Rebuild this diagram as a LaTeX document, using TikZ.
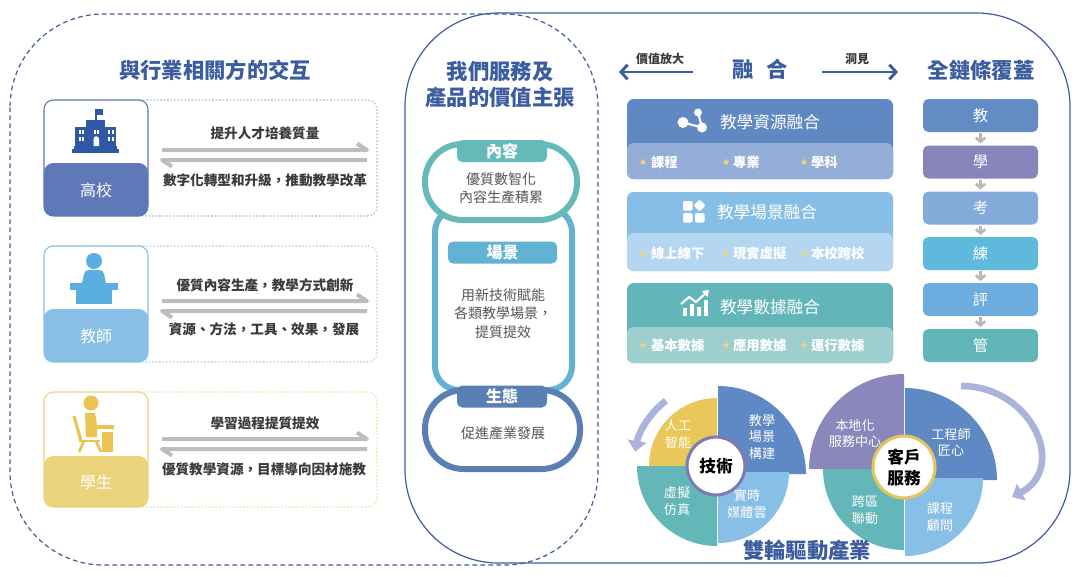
\documentclass[tikz,border=0pt]{standalone}
\usepackage{fontspec}
\setmainfont{Noto Sans CJK TC}
\usetikzlibrary{arrows.meta,shapes.geometric}
\newcommand\myfs[2]{\fontsize{#1pt}{#2pt}\selectfont}
\definecolor{lineblue}{HTML}{3D5C9C}
\definecolor{titleblue}{HTML}{3B5C9F}
\definecolor{cardA}{HTML}{5F78B7}
\definecolor{dotA}{HTML}{A3B8DC}
\definecolor{iconA}{HTML}{2F59A6}
\definecolor{cardB}{HTML}{88BFE6}
\definecolor{dotB}{HTML}{A8D3F0}
\definecolor{iconB}{HTML}{5AAEE0}
\definecolor{cardC}{HTML}{EBD37C}
\definecolor{dotC}{HTML}{F0DFA0}
\definecolor{iconC}{HTML}{E9C550}
\definecolor{arrowgray}{HTML}{BDBDBD}
\definecolor{rowtext}{HTML}{3A3A3A}
\definecolor{midtext}{HTML}{555555}
\definecolor{capA}{HTML}{66B9B9}
\definecolor{capB}{HTML}{62B2D3}
\definecolor{capC}{HTML}{5A7FB5}
\definecolor{fuA}{HTML}{6089C4}
\definecolor{fuAl}{HTML}{95ADD9}
\definecolor{fuB}{HTML}{87BEE6}
\definecolor{fuBl}{HTML}{B4D6F0}
\definecolor{fuC}{HTML}{62B5B8}
\definecolor{fuCl}{HTML}{9DCFCF}
\definecolor{starcol}{HTML}{F2D37A}
\definecolor{chA}{HTML}{638BC4}
\definecolor{chB}{HTML}{8985BB}
\definecolor{chC}{HTML}{84AAD9}
\definecolor{chD}{HTML}{5FB9DD}
\definecolor{chE}{HTML}{6CACDE}
\definecolor{chF}{HTML}{63B6B8}
\definecolor{wblue}{HTML}{5F89C4}
\definecolor{wyel}{HTML}{E9C75A}
\definecolor{wteal}{HTML}{63B7B9}
\definecolor{wlight}{HTML}{88BFE6}
\definecolor{wpurp}{HTML}{8B87BC}
\definecolor{wring}{HTML}{7D7AB6}
\definecolor{wgold}{HTML}{E3C55A}
\definecolor{warrow}{HTML}{AAB4DA}
\definecolor{chevgray}{HTML}{B8B8B8}
\tikzset{
 every node/.style={inner sep=0pt, outer sep=0pt},
 ttl/.style={font=\myfs{16}{19.5}\bfseries, text=titleblue, align=center},
 smalltx/.style={font=\myfs{9}{11}\bfseries, text=rowtext},
 rowtx/.style={font=\myfs{10.2}{12}\bfseries, text=rowtext},
 cardtx/.style={font=\myfs{12}{14}, text=white},
 midtx/.style={font=\myfs{10.5}{13.5}, text=midtext, align=center},
 tabbox/.style={font=\myfs{12}{14}\bfseries, text=white, rounded corners=4pt, minimum height=16.5pt, minimum width=67.5pt},
 futx/.style={font=\myfs{12.5}{15}, text=white},
 itemtx/.style={font=\myfs{10}{12}\bfseries, text=white, anchor=west},
 stardot/.style={star, star points=5, star point ratio=2.4, fill=starcol, minimum size=5.5pt, inner sep=0pt},
 chainbox/.style={rounded corners=4pt, minimum width=86.25pt, minimum height=24.75pt, font=\myfs{11.5}{13}, text=white},
 chev/.style={draw=chevgray, line width=2pt, -{Straight Barb[length=3pt,width=7pt]}, shorten <=1pt, shorten >=1.5pt},
 grayarrow/.style={draw=arrowgray, line width=3pt, line join=round},
 bluearrow/.style={draw=lineblue, line width=2.2pt, -{Straight Barb[length=5pt,width=11pt]}},
 wtx/.style={font=\myfs{9.8}{12.5}, text=white, align=center},
 wctr/.style={font=\myfs{12.5}{15.75}\bfseries, text=black, align=center},
 cardbox/.style={fill=white, rounded corners=7pt, line width=0.8pt},
 dotbox/.style={rounded corners=7pt, line width=0.8pt, dash pattern=on 1.2pt off 1.4pt},
}
\begin{document}
\begin{tikzpicture}[x=0.75pt,y=-0.75pt]
\useasboundingbox (0,0) rectangle (1080,576);

% ===== outer outlines =====
\draw[lineblue, line width=0.9pt, dash pattern=on 3.5pt off 2.5pt, rounded corners=70pt] (10,14) rectangle (598,565);
\draw[lineblue, line width=0.9pt, rounded corners=70pt] (405,13) rectangle (1070,563);

% ===== left panel =====
\node[ttl] (t1) at (215,70) {與行業相關方的交互};

% row 1
\draw[dotbox, dotA] (130,100) rectangle (377,216);
\draw[cardbox, draw=cardA] (44,100) rectangle (148,216);
\fill[cardA, rounded corners=7pt] (44,163) rectangle (148,216);
\node[cardtx] (k1) at (96,190) {高校};
% school icon
\fill[iconA] (72,149) rectangle (119,153);
\fill[iconA] (74,146) rectangle (117,149);
\fill[iconA] (75,127) rectangle (116,146);
\fill[iconA] (86,120) rectangle (105,127);
\fill[iconA] (95,109) rectangle (96.8,120);
\fill[iconA] (96.8,109) rectangle (103,114.5);
\foreach \wx in {78.5,82,93.5,97,108,111.5} {\fill[white] (\wx,129.5) rectangle ++(2.3,4);}
\foreach \wx in {78.5,82,108,111.5} {\fill[white] (\wx,137) rectangle ++(2.3,4);}
\fill[white] (93.5,146) -- (93.5,139) arc[start angle=180,end angle=360,radius=2.75] -- (99,146) -- cycle;
\node[rowtx] (r1a) at (265,133) {提升人才培養質量};
\node[rowtx] (r1b) at (265,180) {數字化轉型和升級，推動教學改革};
\coordinate (g1a) at (162,150); \coordinate (g1b) at (367,150);
\coordinate (g1c) at (367,160); \coordinate (g1d) at (162,160);
\draw[grayarrow] (g1a) -- (g1b) -- ++(-10,-6.5);
\draw[grayarrow] (g1c) -- (g1d) -- ++(10,6.5);

% row 2
\draw[dotbox, dotB] (130,246) rectangle (377,362);
\draw[cardbox, draw=cardB] (44,246) rectangle (148,362);
\fill[cardB, rounded corners=7pt] (44,309) rectangle (148,362);
\node[cardtx] (k2) at (96,336) {教師};
% teacher icon
\fill[iconB] (94,261) circle[radius=8];
\fill[iconB] (82,283) -- (84,274) .. controls (85,271) .. (89,270) -- (99,270) .. controls (103,271) .. (104,274) -- (106,283) -- cycle;
\fill[iconB] (70,283) rectangle (118,289.5);
\fill[iconB] (76,289.5) rectangle (112,304);
\node[rowtx] (r2a) at (265,285) {優質內容生產，教學方式創新};
\node[rowtx] (r2b) at (264,329) {資源、方法，工具、效果，發展};
\coordinate (g2a) at (162,301); \coordinate (g2b) at (367,301);
\coordinate (g2c) at (367,311); \coordinate (g2d) at (162,311);
\draw[grayarrow] (g2a) -- (g2b) -- ++(-10,-6.5);
\draw[grayarrow] (g2c) -- (g2d) -- ++(10,6.5);

% row 3
\draw[dotbox, dotC] (130,392) rectangle (377,507);
\draw[cardbox, draw=cardC] (44,392) rectangle (148,507);
\fill[cardC, rounded corners=7pt] (44,456) rectangle (148,507);
\node[cardtx] (k3) at (96,482) {學生};
% student icon
\fill[iconC] (91,403) circle[radius=7.5];
\draw[iconC, line width=2.4pt] (74,416) -- (81,441);
\draw[iconC, line width=2pt] (79,441) -- (100,441);
\draw[iconC, line width=2pt] (84,441) -- (79,452);
\draw[iconC, line width=2pt] (96,441) -- (101,452);
\fill[iconC] (85,413) -- (95,413) -- (97,425) -- (114,425) -- (114,429) -- (97,429) -- (97,437) -- (86,437) -- cycle;
\fill[iconC] (102,432) rectangle (113,452);
\node[rowtx] (r3a) at (265,423) {學習過程提質提效};
\node[rowtx] (r3b) at (264,469) {優質教學資源，目標導向因材施教};
\coordinate (g3a) at (162,439); \coordinate (g3b) at (367,439);
\coordinate (g3c) at (367,449); \coordinate (g3d) at (162,449);
\draw[grayarrow] (g3a) -- (g3b) -- ++(-10,-6.5);
\draw[grayarrow] (g3c) -- (g3d) -- ++(10,6.5);

% ===== middle panel =====
\node[ttl] (t2) at (500,85) {我們服務及\\產品的價值主張};
% scene frame (behind)
\draw[capB, line width=4.5pt, rounded corners=18pt] (435,208) rectangle (572,390);
% content capsule
\draw[capA, line width=4.5pt, fill=white, rounded corners=28pt] (425,144) rectangle (577,220);
\node[tabbox, fill=capA] (tA) at (502,151) {內容};
\node[midtx] (mA) at (501,188.5) {優質數智化\\內容生產積累};
\node[tabbox, fill=capB, minimum width=82pt] (tB) at (502.5,252.5) {場景};
\node[midtx, font=\myfs{10.5}{13.9}] (mB) at (503,313.5) {用新技術賦能\\各類教學場景，\\提質提效};
% ecology capsule
\draw[capC, line width=4.5pt, fill=white, rounded corners=29pt] (425,390) rectangle (580,469);
\node[tabbox, fill=capC] (tC) at (502,396.5) {生態};
\node[midtx] (mC) at (503,433) {促進產業發展};

% ===== right panel top =====
\node[smalltx] (s1) at (660,59) {價值放大};
\node[ttl] (t3) at (760,69) {融\hspace{9pt}合};
\node[smalltx] (s2) at (857,59) {洞見};
\node[ttl] (t4) at (981,70) {全鏈條覆蓋};
\coordinate (lA) at (693,72); \coordinate (lB) at (619,72);
\coordinate (rA) at (822,72); \coordinate (rB) at (898,72);
\draw[bluearrow] (lA) -- (lB);
\draw[bluearrow] (rA) -- (rB);

% fusion box A
\fill[fuA, rounded corners=5pt] (627,99) rectangle (893,179);
\fill[fuAl, rounded corners=5pt] (627,143) rectangle (893,179);
\draw[white, line width=1.6pt] (683,122.5) -- (702,127.5) -- (698,112.5);
\fill[white] (683,122.5) circle[radius=5.5];
\fill[white] (698,112.5) circle[radius=4];
\fill[white] (702,127.5) circle[radius=5];
\node[futx] (fA) at (770,122) {教學資源融合};
\node[stardot] (sA1) at (643,162) {}; \node[itemtx] (iA1) at (651,162) {課程};
\node[stardot] (sA2) at (726,162) {}; \node[itemtx] (iA2) at (733,162) {專業};
\node[stardot] (sA3) at (804,162) {}; \node[itemtx] (iA3) at (811,162) {學科};

% fusion box B
\fill[fuB, rounded corners=5pt] (627,192) rectangle (893,271);
\fill[fuBl, rounded corners=5pt] (627,233) rectangle (893,271);
\fill[white, rounded corners=1pt] (683,201) rectangle (692.5,210.5);
\fill[white, rounded corners=1pt] (683,213) rectangle (692.5,222.5);
\fill[white, rounded corners=1pt] (695,213) rectangle (704.5,222.5);
\fill[white, rounded corners=1pt] (699.5,199.5) -- (705.5,205.5) -- (699.5,211.5) -- (693.5,205.5) -- cycle;
\node[futx] (fB) at (767,212) {教學場景融合};
\node[stardot] (sB1) at (643,253) {}; \node[itemtx] (iB1) at (651,253) {線上線下};
\node[stardot] (sB2) at (726,253) {}; \node[itemtx] (iB2) at (733,253) {現實虛擬};
\node[stardot] (sB3) at (804,253) {}; \node[itemtx] (iB3) at (811,253) {本校跨校};

% fusion box C
\fill[fuC, rounded corners=5pt] (627,283) rectangle (893,363);
\fill[fuCl, rounded corners=5pt] (627,327) rectangle (893,363);
\fill[white] (683,308) rectangle (687,316);
\fill[white] (690,304) rectangle (694,316);
\fill[white] (697,307) rectangle (701,316);
\fill[white] (704,300) rectangle (708,316);
\draw[white, line width=1.6pt, -{Triangle[length=4.5pt,width=6pt]}] (681,304) -- (689,297) -- (696,302) -- (709,290);
\node[futx] (fC) at (770,307) {教學數據融合};
\node[stardot] (sC1) at (643,345) {}; \node[itemtx] (iC1) at (651,345) {基本數據};
\node[stardot] (sC2) at (726,345) {}; \node[itemtx] (iC2) at (733,345) {應用數據};
\node[stardot] (sC3) at (804,345) {}; \node[itemtx] (iC3) at (811,345) {運行數據};

% chain
\node[chainbox, fill=chA] (ch1) at (980.5,115.5) {教};
\node[chainbox, fill=chB] (ch2) at (980.5,162) {學};
\node[chainbox, fill=chC] (ch3) at (980.5,208) {考};
\node[chainbox, fill=chD] (ch4) at (980.5,253.5) {練};
\node[chainbox, fill=chE] (ch5) at (980.5,299.5) {評};
\node[chainbox, fill=chF] (ch6) at (980.5,345.5) {管};
\draw[chev] (ch1.south) -- (ch2.north);
\draw[chev] (ch2.south) -- (ch3.north);
\draw[chev] (ch3.south) -- (ch4.north);
\draw[chev] (ch4.south) -- (ch5.north);
\draw[chev] (ch5.south) -- (ch6.north);

% ===== wheel 1 : technology =====
\fill[wblue] (718,474) -- ++(0:88) arc[start angle=0,end angle=-90,radius=88] -- cycle;
\fill[wyel] (717,466) -- ++(-90:68) arc[start angle=-90,end angle=-180,radius=68] -- cycle;
\fill[wteal] (717,466) -- ++(180:80) arc[start angle=180,end angle=90,radius=80] -- cycle;
\fill[wlight] (718,472) -- ++(90:71) arc[start angle=90,end angle=0,radius=71] -- cycle;
\draw[wring, line width=2.3pt, fill=white] (716,466) circle[radius=29];
\node[wctr] (w1c) at (716,466) {技術};
\node[wtx] (w1a) at (678,434) {人工\\智能};
\node[wtx, font=\myfs{9.8}{12.4}] (w1b) at (762,437) {教學\\場景\\構建};
\node[wtx] (w1d) at (677,501) {虛擬\\仿真};
\node[wtx] (w1e) at (747,504) {實時\\媒體雲};
\draw[warrow, line width=5pt, -{Triangle[length=8pt,width=14pt]}] (717,466) ++(-128:83) arc[start angle=-128,end angle=-170,radius=83];

% ===== wheel 2 : customer service =====
\fill[wpurp] (904,469) -- ++(-90:95) arc[start angle=-90,end angle=-180,radius=95] -- cycle;
\fill[wblue] (905,480) -- ++(0:92) arc[start angle=0,end angle=-90,radius=92] -- cycle;
\fill[wteal] (904,469) -- ++(180:81) arc[start angle=180,end angle=90,radius=81] -- cycle;
\fill[wlight] (905,478) -- ++(90:78) arc[start angle=90,end angle=0,radius=78] -- cycle;
\draw[wgold, line width=2.3pt, fill=white] (904,467) circle[radius=31];
\node[wctr] (w2c) at (904,468) {客戶\\服務};
\node[wtx] (w2a) at (855,433.5) {本地化\\服務中心};
\node[wtx] (w2b) at (951,442.5) {工程師\\匠心};
\node[wtx] (w2d) at (865,510) {跨區\\聯動};
\node[wtx] (w2e) at (940,517) {課程\\顧問};
\coordinate (ca) at (961,386); \coordinate (cb) at (1012,497);
\draw[warrow, line width=5pt, -{Triangle[length=8pt,width=14pt]}] (ca) .. controls (1032,386) and (1068,468) .. (cb);

\node[ttl, anchor=west] (bt) at (743,550) {雙輪驅動產業};
\end{tikzpicture}
\end{document}
